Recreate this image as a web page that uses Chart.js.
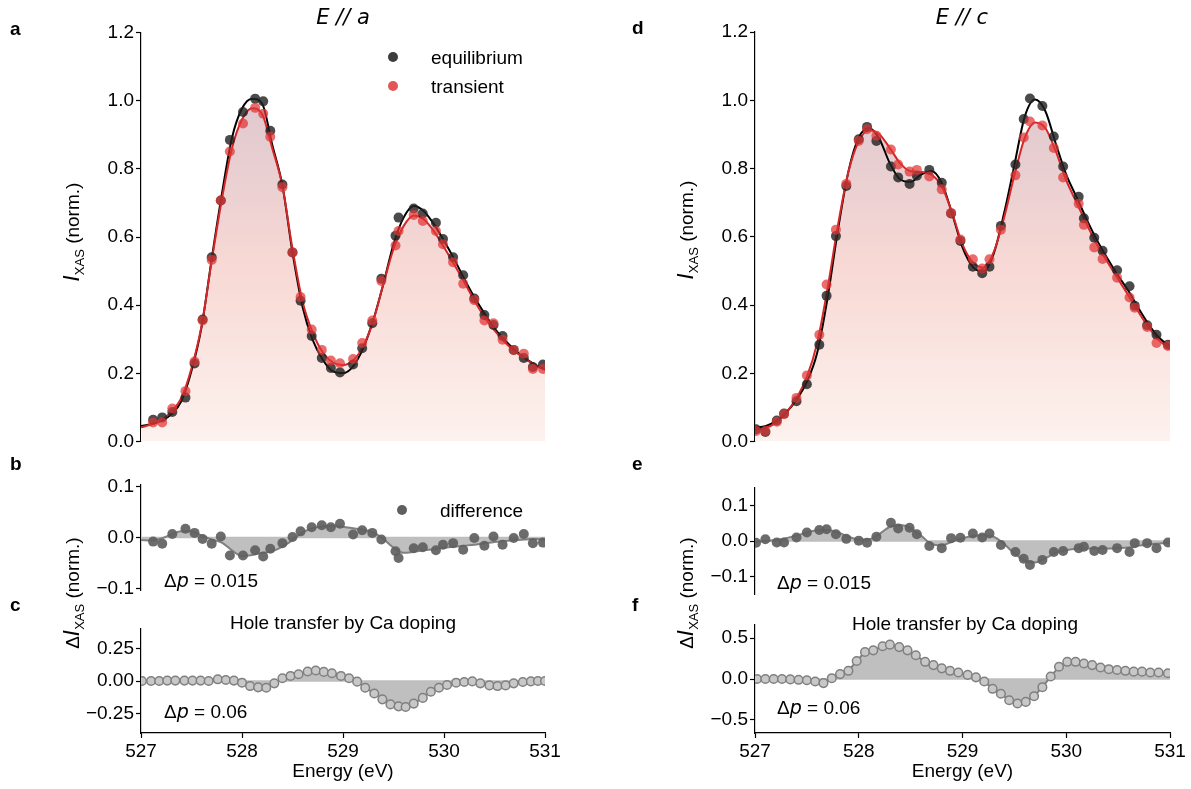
<!DOCTYPE html>
<html>
<head>
<meta charset="utf-8">
<script src="https://cdn.jsdelivr.net/npm/chart.js@4.4.1/dist/chart.umd.min.js"></script>
<style>
  html, body { margin: 0; padding: 0; background: #fff; }
  #fig { position: relative; width: 1191px; height: 789px; overflow: hidden; background: #fff; }
  #fig canvas { position: absolute; }
</style>
</head>
<body>
<div id="fig"></div>
<script>
// ---------- data: O K-edge XAS, E // a (left column) ----------
const energyA = [527.12, 527.21, 527.31, 527.44, 527.53, 527.61, 527.70, 527.79, 527.88, 528.01,
                 528.13, 528.21, 528.28, 528.40, 528.50, 528.58, 528.69, 528.79, 528.88, 528.97,
                 529.10, 529.19, 529.29, 529.38, 529.52, 529.55, 529.70, 529.79, 529.92, 529.99,
                 530.09, 530.19, 530.30, 530.40, 530.49, 530.58, 530.69, 530.79, 530.88, 530.98];
const equilibriumA = [0.064, 0.071, 0.087, 0.129, 0.229, 0.358, 0.541, 0.707, 0.885, 0.967,
                      1.006, 0.998, 0.912, 0.754, 0.555, 0.413, 0.310, 0.245, 0.216, 0.203,
                      0.226, 0.274, 0.347, 0.478, 0.604, 0.657, 0.684, 0.669, 0.642, 0.594,
                      0.541, 0.488, 0.420, 0.371, 0.342, 0.310, 0.269, 0.245, 0.219, 0.226];
const transientA = [0.056, 0.056, 0.097, 0.148, 0.235, 0.355, 0.533, 0.707, 0.851, 0.933,
                    0.979, 0.962, 0.894, 0.746, 0.555, 0.424, 0.329, 0.269, 0.238, 0.230,
                    0.242, 0.289, 0.355, 0.471, 0.575, 0.618, 0.665, 0.647, 0.618, 0.579,
                    0.526, 0.463, 0.415, 0.355, 0.347, 0.299, 0.269, 0.258, 0.213, 0.213];
const differenceA = [-0.008, -0.012, 0.007, 0.017, 0.009, -0.003, -0.012, 0.002, -0.035, -0.035,
                     -0.025, -0.037, -0.022, -0.011, 0.001, 0.012, 0.020, 0.024, 0.020, 0.027,
                     0.006, 0.014, 0.009, -0.004, -0.027, -0.040, -0.021, -0.019, -0.025, -0.014,
                     -0.011, -0.024, -0.001, -0.016, 0.002, -0.014, -0.001, 0.007, -0.011, -0.010];

// fitted curves on a 0.1 eV grid
const fitEnergy = [527.0, 527.1, 527.2, 527.3, 527.4, 527.5, 527.6, 527.7, 527.8, 527.9,
                   528.0, 528.1, 528.2, 528.3, 528.4, 528.5, 528.6, 528.7, 528.8, 528.9,
                   529.0, 529.1, 529.2, 529.3, 529.4, 529.5, 529.6, 529.7, 529.8, 529.9,
                   530.0, 530.1, 530.2, 530.3, 530.4, 530.5, 530.6, 530.7, 530.8, 530.9, 531.0];
const equilibriumFitA = [0.046, 0.051, 0.061, 0.080, 0.119, 0.208, 0.337, 0.536, 0.725, 0.890,
                         0.977, 1.006, 0.991, 0.870, 0.752, 0.555, 0.395, 0.298, 0.240, 0.206,
                         0.201, 0.221, 0.274, 0.357, 0.463, 0.579, 0.657, 0.691, 0.676, 0.638,
                         0.589, 0.536, 0.478, 0.424, 0.376, 0.332, 0.298, 0.269, 0.245, 0.226, 0.211];
const transientFitA = [0.042, 0.050, 0.062, 0.088, 0.128, 0.215, 0.340, 0.530, 0.710, 0.860,
                       0.945, 0.978, 0.960, 0.860, 0.750, 0.565, 0.410, 0.320, 0.262, 0.232,
                       0.225, 0.238, 0.280, 0.355, 0.462, 0.565, 0.632, 0.663, 0.652, 0.617,
                       0.570, 0.520, 0.468, 0.414, 0.366, 0.326, 0.292, 0.265, 0.243, 0.225, 0.210];
const differenceFitA = [-0.005, -0.006, -0.002, 0.006, 0.012, 0.012, 0.004, -0.004, -0.010, -0.025,
                        -0.036, -0.034, -0.030, -0.027, -0.018, -0.005, 0.010, 0.018, 0.022, 0.023,
                        0.021, 0.018, 0.015, 0.010, -0.003, -0.020, -0.030, -0.028, -0.025, -0.023,
                        -0.020, -0.018, -0.016, -0.014, -0.011, -0.009, -0.007, -0.005, -0.004, -0.003, -0.004];

// Ca-doping reference difference
const holeEnergyA = [527.01, 527.10, 527.18, 527.26, 527.34, 527.43, 527.51, 527.59, 527.67, 527.76,
                     527.84, 527.92, 528.00, 528.08, 528.16, 528.24, 528.32, 528.40, 528.48, 528.56,
                     528.65, 528.73, 528.81, 528.89, 528.98, 529.06, 529.14, 529.22, 529.31, 529.39,
                     529.47, 529.55, 529.62, 529.70, 529.79, 529.87, 529.95, 530.03, 530.12, 530.20,
                     530.28, 530.36, 530.45, 530.53, 530.61, 530.69, 530.78, 530.86, 530.93, 531.00];
const holeTransferA = [0.000, 0.000, 0.000, 0.003, 0.003, 0.003, 0.003, 0.003, 0.000, 0.013,
                       0.008, 0.003, -0.013, -0.039, -0.049, -0.052, -0.018, 0.021, 0.039, 0.052,
                       0.073, 0.081, 0.070, 0.060, 0.039, 0.021, -0.005, -0.052, -0.096, -0.141,
                       -0.180, -0.195, -0.200, -0.174, -0.130, -0.083, -0.052, -0.031, -0.013, -0.008,
                       -0.003, -0.018, -0.034, -0.039, -0.034, -0.018, -0.008, -0.003, 0.000, 0.000];

// ---------- data: E // c (right column) ----------
const energyC = [527.01, 527.10, 527.21, 527.28, 527.40, 527.50, 527.62, 527.69, 527.78, 527.88,
                 528.00, 528.08, 528.17, 528.31, 528.38, 528.49, 528.56, 528.68, 528.80, 528.89,
                 528.98, 529.10, 529.19, 529.26, 529.37, 529.51, 529.59, 529.65, 529.77, 529.88,
                 529.97, 530.12, 530.17, 530.27, 530.35, 530.49, 530.61, 530.66, 530.78, 530.87, 530.98];
const equilibriumC = [0.036, 0.028, 0.062, 0.082, 0.118, 0.168, 0.284, 0.427, 0.602, 0.749,
                      0.886, 0.922, 0.881, 0.806, 0.774, 0.755, 0.779, 0.796, 0.758, 0.668,
                      0.588, 0.512, 0.493, 0.512, 0.632, 0.812, 0.945, 1.005, 0.983, 0.894,
                      0.806, 0.717, 0.654, 0.597, 0.559, 0.502, 0.455, 0.398, 0.341, 0.313, 0.284];
const transientC = [0.031, 0.031, 0.058, 0.080, 0.128, 0.194, 0.313, 0.460, 0.621, 0.755,
                    0.881, 0.915, 0.896, 0.856, 0.812, 0.791, 0.796, 0.777, 0.739, 0.670,
                    0.592, 0.534, 0.507, 0.534, 0.621, 0.780, 0.891, 0.938, 0.926, 0.860,
                    0.774, 0.697, 0.635, 0.569, 0.535, 0.480, 0.422, 0.392, 0.336, 0.289, 0.280];
const differenceC = [-0.005, 0.005, -0.004, -0.004, 0.010, 0.024, 0.031, 0.033, 0.019, 0.006,
                     0.001, -0.005, 0.012, 0.051, 0.035, 0.037, 0.019, -0.014, -0.020, 0.008,
                     0.009, 0.021, 0.010, 0.021, -0.011, -0.031, -0.050, -0.067, -0.053, -0.031,
                     -0.028, -0.020, -0.016, -0.028, -0.025, -0.020, -0.031, -0.006, -0.006, -0.020, -0.004];
const equilibriumFitC = [0.041, 0.045, 0.060, 0.085, 0.123, 0.175, 0.261, 0.422, 0.621, 0.791,
                         0.891, 0.919, 0.886, 0.815, 0.768, 0.761, 0.782, 0.793, 0.758, 0.668,
                         0.569, 0.512, 0.498, 0.550, 0.668, 0.810, 0.952, 1.002, 0.967, 0.872,
                         0.782, 0.716, 0.649, 0.588, 0.535, 0.486, 0.441, 0.389, 0.341, 0.303, 0.280];
const transientFitC = [0.035, 0.040, 0.055, 0.085, 0.128, 0.190, 0.290, 0.450, 0.635, 0.790,
                       0.880, 0.912, 0.900, 0.860, 0.815, 0.792, 0.790, 0.782, 0.748, 0.670,
                       0.578, 0.525, 0.510, 0.555, 0.655, 0.780, 0.890, 0.935, 0.918, 0.850,
                       0.765, 0.700, 0.635, 0.575, 0.525, 0.476, 0.428, 0.378, 0.332, 0.295, 0.272];
const differenceFitC = [-0.003, 0.000, 0.003, 0.008, 0.015, 0.024, 0.030, 0.031, 0.024, 0.012,
                        0.004, 0.005, 0.020, 0.040, 0.045, 0.036, 0.015, -0.008, -0.012, -0.002,
                        0.008, 0.014, 0.016, 0.012, -0.008, -0.035, -0.055, -0.060, -0.048, -0.033,
                        -0.026, -0.022, -0.021, -0.021, -0.021, -0.020, -0.018, -0.013, -0.009, -0.007, -0.004];
const holeEnergyC = [527.02, 527.10, 527.18, 527.26, 527.34, 527.42, 527.50, 527.58, 527.66, 527.74,
                     527.82, 527.90, 527.98, 528.06, 528.14, 528.23, 528.30, 528.39, 528.47, 528.55,
                     528.64, 528.72, 528.80, 528.88, 528.96, 529.05, 529.13, 529.21, 529.29, 529.37,
                     529.45, 529.53, 529.61, 529.69, 529.77, 529.85, 529.93, 530.01, 530.09, 530.17,
                     530.25, 530.33, 530.41, 530.49, 530.57, 530.65, 530.73, 530.81, 530.89, 530.98];
const holeTransferC = [0.000, 0.000, 0.000, 0.000, -0.005, -0.010, -0.015, -0.030, -0.050, 0.010,
                       0.060, 0.100, 0.220, 0.330, 0.350, 0.400, 0.420, 0.390, 0.350, 0.290,
                       0.210, 0.170, 0.130, 0.100, 0.080, 0.050, 0.020, -0.030, -0.120, -0.180,
                       -0.260, -0.300, -0.280, -0.210, -0.100, 0.030, 0.150, 0.210, 0.210, 0.190,
                       0.170, 0.140, 0.120, 0.110, 0.100, 0.090, 0.090, 0.080, 0.080, 0.070];

// ---------- tick labels ----------
const energyTicks = [527, 528, 529, 530, 531];
const intensityTicks = [0.0, 0.2, 0.4, 0.6, 0.8, 1.0, 1.2];
const diffTicks = [-0.1, 0.0, 0.1];
const holeTicksA = [-0.25, 0.00, 0.25];
const holeTicksC = [-0.5, 0.0, 0.5];

// ---------- styling helpers ----------
const SANS = "'Liberation Sans', Arial, Helvetica, sans-serif";
const MATH = "'DejaVu Sans', sans-serif";
const FS = 19;
Chart.defaults.font.family = SANS;
Chart.defaults.color = '#000';
Chart.defaults.animation = false;

const fig = document.getElementById('fig');
const pts = (xs, ys) => xs.map((x, i) => ({ x: x, y: ys[i] }));
const fmt = dec => v => (v < 0 ? '\u2212' : '') + Math.abs(v).toFixed(dec);

function yAxis(min, max, ticks, dec, width) {
  return {
    type: 'linear', position: 'left', min: min, max: max,
    afterBuildTicks: s => { s.ticks = ticks.map(v => ({ value: v })); },
    afterFit: s => { s.width = width; },
    border: { display: true, color: '#000', width: 1.2 },
    grid: { display: true, drawOnChartArea: false, drawTicks: true, tickLength: 5, tickWidth: 1.2, tickColor: '#000' },
    ticks: { autoSkip: false, color: '#000', font: { size: FS }, padding: 2, callback: fmt(dec) }
  };
}
function xAxis(show) {
  const ax = {
    type: 'linear', min: 527, max: 531, display: show,
    afterBuildTicks: s => { s.ticks = energyTicks.map(v => ({ value: v })); }
  };
  if (show) {
    Object.assign(ax, {
      afterFit: s => { s.height = 56; },
      border: { display: true, color: '#000', width: 1.2 },
      grid: { display: true, drawOnChartArea: false, drawTicks: true, tickLength: 5, tickWidth: 1.2, tickColor: '#000' },
      ticks: { autoSkip: false, maxRotation: 0, color: '#000', font: { size: FS }, padding: 2, callback: v => String(v) },
      title: { display: true, text: 'Energy (eV)', color: '#000', font: { size: FS }, padding: { top: 0, bottom: 6 } }
    });
  }
  return ax;
}

// rich text: array of segments {t, font, dy}
function drawRich(ctx, segs, x, y, align, rot) {
  ctx.save();
  ctx.translate(x, y);
  if (rot) ctx.rotate(rot);
  ctx.textAlign = 'left';
  ctx.textBaseline = 'alphabetic';
  ctx.fillStyle = '#000';
  let total = 0;
  segs.forEach(s => { ctx.font = s.font; s.w = ctx.measureText(s.t).width; total += s.w; });
  let cx = align === 'center' ? -total / 2 : (align === 'right' ? -total : 0);
  segs.forEach(s => { ctx.font = s.font; ctx.fillText(s.t, cx, s.dy || 0); cx += s.w; });
  ctx.restore();
}
const F = (px, extra) => (extra ? extra + ' ' : '') + px + 'px ' + SANS;
const M = px => 'italic ' + px + 'px ' + MATH;

// decorations drawn in canvas coordinates (ox, oy = canvas offset on the page)
function decorPlugin(ox, oy, items) {
  return {
    id: 'decor',
    beforeDatasetsDraw(chart) {
      if (!chart.$zeroLine) return;
      const ctx = chart.ctx, a = chart.chartArea, y0 = chart.scales.y.getPixelForValue(0);
      ctx.save();
      ctx.strokeStyle = 'rgb(190,190,190)';
      ctx.lineWidth = 1.5;
      ctx.beginPath(); ctx.moveTo(a.left, y0); ctx.lineTo(a.right, y0); ctx.stroke();
      ctx.restore();
    },
    afterDraw(chart) {
      const ctx = chart.ctx;
      items.forEach(it => {
        if (it.dot) {
          ctx.save();
          ctx.fillStyle = it.dot;
          ctx.beginPath(); ctx.arc(it.x - ox, it.y - oy, it.r || 5, 0, Math.PI * 2); ctx.fill();
          ctx.restore();
        } else {
          drawRich(ctx, it.segs, it.x - ox, it.y - oy, it.align || 'left', it.rot || 0);
        }
      });
    }
  };
}

function makeChart(box, area, xShow, yCfg, datasets, items, zeroLine) {
  const c = document.createElement('canvas');
  c.width = box.w; c.height = box.h;
  c.style.left = box.x + 'px'; c.style.top = box.y + 'px';
  c.style.width = box.w + 'px'; c.style.height = box.h + 'px';
  fig.appendChild(c);
  const xh = xShow ? 56 : 0;
  const chart = new Chart(c.getContext('2d'), {
    type: 'line',
    data: { datasets: datasets },
    options: {
      responsive: false, animation: false, events: [],
      layout: { padding: { left: 0, top: area.t - box.y, right: box.x + box.w - area.r, bottom: box.y + box.h - area.b - xh } },
      scales: { x: xAxis(xShow), y: yAxis(yCfg.min, yCfg.max, yCfg.ticks, yCfg.dec, area.l - box.x) },
      plugins: { legend: { display: false }, tooltip: { enabled: false }, filler: { drawTime: 'beforeDatasetsDraw' } }
    },
    plugins: [decorPlugin(box.x, box.y, items)]
  });
  chart.$zeroLine = !!zeroLine;
  chart.draw();
  return chart;
}

// pink vertical gradient under the transient spectrum
function pinkFill(context) {
  const ch = context.chart;
  if (!ch.chartArea) return 'rgba(0,0,0,0)';
  const ys = ch.scales.y;
  const g = ch.ctx.createLinearGradient(0, ys.getPixelForValue(0), 0, ys.getPixelForValue(1.0));
  g.addColorStop(0, 'rgb(253,242,238)');
  g.addColorStop(0.5, 'rgb(248,217,213)');
  g.addColorStop(1, 'rgb(223,200,206)');
  return g;
}

const BLACK_PT = 'rgba(35,35,35,0.82)';
const RED_PT = 'rgba(224,52,52,0.72)';
const RED_LINE = 'rgb(214,39,40)';
const GRAY_FILL = 'rgb(191,191,191)';
const GRAY_LINE = 'rgb(128,128,128)';
const DIFF_PT = 'rgba(95,95,95,0.92)';

function spectrumSets(en, eq, tr, eqFit, trFit) {
  return [
    { data: pts(fitEnergy, trFit), borderWidth: 0, pointRadius: 0, fill: 'origin', backgroundColor: pinkFill,
      cubicInterpolationMode: 'monotone', order: 6 },
    { data: pts(fitEnergy, eqFit), borderColor: '#000', borderWidth: 2, pointRadius: 0, fill: false,
      cubicInterpolationMode: 'monotone', order: 5 },
    { data: pts(fitEnergy, trFit), borderColor: RED_LINE, borderWidth: 2, pointRadius: 0, fill: false,
      cubicInterpolationMode: 'monotone', order: 4 },
    { data: pts(en, eq), showLine: false, pointRadius: 5, pointBorderWidth: 0,
      pointBackgroundColor: BLACK_PT, order: 3 },
    { data: pts(en, tr), showLine: false, pointRadius: 5, pointBorderWidth: 0,
      pointBackgroundColor: RED_PT, order: 2 }
  ];
}
function differenceSets(en, diff, diffFit) {
  return [
    { data: pts(fitEnergy, diffFit), borderColor: GRAY_LINE, borderWidth: 2, pointRadius: 0,
      fill: 'origin', backgroundColor: GRAY_FILL, cubicInterpolationMode: 'monotone', order: 3 },
    { data: pts(en, diff), showLine: false, pointRadius: 5, pointBorderWidth: 0,
      pointBackgroundColor: DIFF_PT, order: 2 }
  ];
}
function holeSets(en, hole) {
  return [
    { data: pts(en, hole), borderColor: GRAY_LINE, borderWidth: 2, tension: 0,
      fill: 'origin', backgroundColor: GRAY_FILL,
      pointRadius: 4.3, pointBorderWidth: 1.5, pointBorderColor: GRAY_LINE,
      pointBackgroundColor: 'rgb(200,200,200)', order: 2 }
  ];
}

const letter = (t, x, y) => ({ segs: [{ t: t, font: F(19, 'bold') }], x: x, y: y });
const deltaP = (val, x, y) => ({ segs: [
  { t: '\u0394', font: F(FS) }, { t: 'p', font: M(FS) }, { t: ' = ' + val, font: F(FS) }], x: x, y: y });
const yLabelI = (x, y) => ({ rot: -Math.PI / 2, align: 'center', x: x, y: y, segs: [
  { t: 'I', font: M(21) }, { t: 'XAS', font: F(13), dy: 5 }, { t: ' (norm.)', font: F(FS) }] });
const yLabelDI = (x, y) => ({ rot: -Math.PI / 2, align: 'center', x: x, y: y, segs: [
  { t: '\u0394', font: F(FS) }, { t: 'I', font: M(21) }, { t: 'XAS', font: F(13), dy: 5 }, { t: ' (norm.)', font: F(FS) }] });
const holeTitle = (x, y) => ({ segs: [{ t: 'Hole transfer by Ca doping', font: F(FS) }], x: x, y: y, align: 'center' });

// ---------- left column: E // a ----------
makeChart({ x: 0, y: 0, w: 600, h: 455 }, { l: 141, r: 545, t: 32.5, b: 446 }, false,
  { min: 0, max: 1.2, ticks: intensityTicks, dec: 1 },
  spectrumSets(energyA, equilibriumA, transientA, equilibriumFitA, transientFitA),
  [letter('a', 10, 35),
   { segs: [{ t: 'E // a', font: M(21) }], x: 343, y: 24, align: 'center' },
   { dot: 'rgb(60,60,60)', x: 393, y: 57, r: 5 },
   { segs: [{ t: 'equilibrium', font: F(FS) }], x: 431, y: 64 },
   { dot: 'rgb(228,86,86)', x: 393, y: 86, r: 5 },
   { segs: [{ t: 'transient', font: F(FS) }], x: 431, y: 93 },
   yLabelI(79, 232)]);

// the difference panel's canvas reaches down so the shared y label fits
makeChart({ x: 0, y: 455, w: 600, h: 225 }, { l: 141, r: 545, t: 485, b: 590 }, false,
  { min: -0.1025, max: 0.1025, ticks: diffTicks, dec: 1 },
  differenceSets(energyA, differenceA, differenceFitA),
  [letter('b', 10, 470),
   { dot: 'rgb(95,95,95)', x: 402, y: 510, r: 5 },
   { segs: [{ t: 'difference', font: F(FS) }], x: 440, y: 517 },
   deltaP('0.015', 164, 587),
   yLabelDI(79, 593)], true);

makeChart({ x: 0, y: 598, w: 600, h: 191 }, { l: 141, r: 545, t: 629, b: 733 }, true,
  { min: -0.4, max: 0.4, ticks: holeTicksA, dec: 2 },
  holeSets(holeEnergyA, holeTransferA),
  [letter('c', 10, 611), holeTitle(343, 629), deltaP('0.06', 164, 718)], true);

// ---------- right column: E // c ----------
makeChart({ x: 600, y: 0, w: 591, h: 455 }, { l: 755, r: 1170, t: 32, b: 454 }, false,
  { min: 0, max: 1.2, ticks: intensityTicks, dec: 1 },
  spectrumSets(energyC, equilibriumC, transientC, equilibriumFitC, transientFitC),
  [letter('d', 632, 34),
   { segs: [{ t: 'E // c', font: M(21) }], x: 962, y: 24, align: 'center' },
   yLabelI(693, 230)]);

makeChart({ x: 600, y: 455, w: 591, h: 225 }, { l: 755, r: 1170, t: 487.5, b: 594.5 }, false,
  { min: -0.15, max: 0.15, ticks: diffTicks, dec: 1 },
  differenceSets(energyC, differenceC, differenceFitC),
  [letter('e', 632, 470), deltaP('0.015', 777, 589), yLabelDI(693, 593)], true);

makeChart({ x: 600, y: 598, w: 591, h: 191 }, { l: 755, r: 1170, t: 625, b: 733 }, true,
  { min: -0.66, max: 0.66, ticks: holeTicksC, dec: 1 },
  holeSets(holeEnergyC, holeTransferC),
  [letter('f', 632, 611), holeTitle(965, 630), deltaP('0.06', 777, 714)], true);
</script>
</body>
</html>
